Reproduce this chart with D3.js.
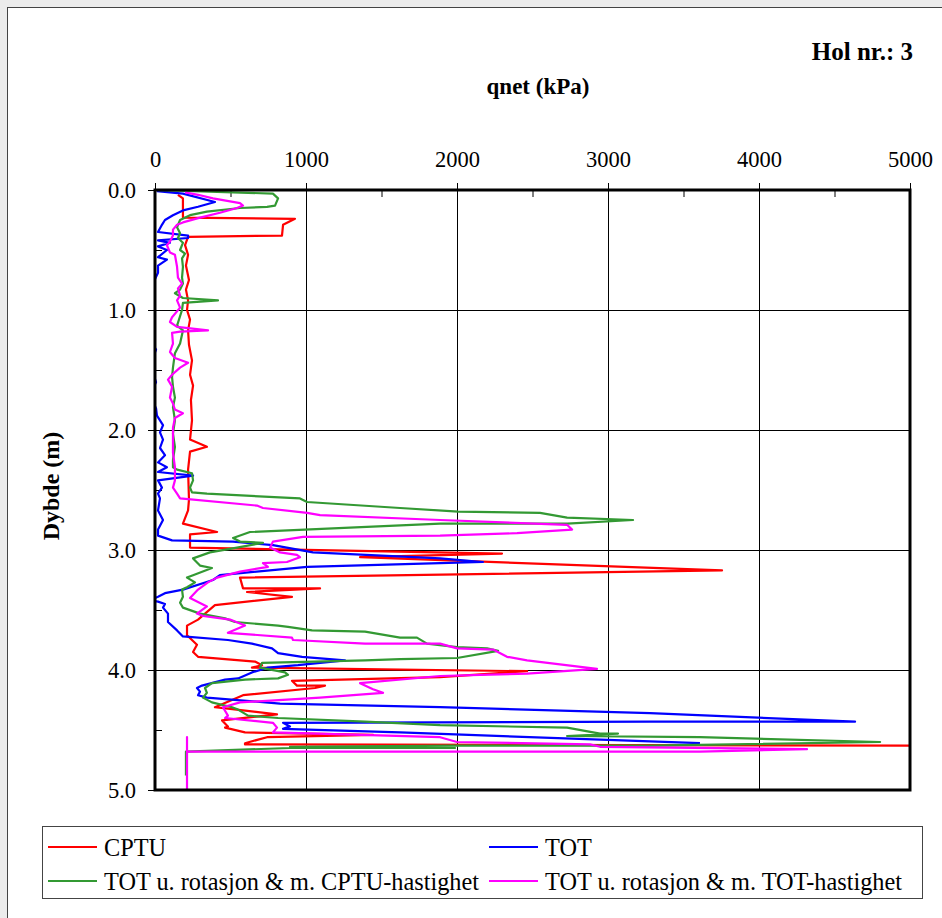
<!DOCTYPE html>
<html lang="no">
<head>
<meta charset="UTF-8">
<title>Hol nr.: 3 - qnet</title>
<script src="https://cdnjs.cloudflare.com/ajax/libs/d3/7.8.5/d3.min.js"></script>
<style>
    body { margin: 0; background: #ececec; }
    svg { display: block; font-family: "Liberation Serif", "Times New Roman", serif; }
</style>
</head>
<body>
<svg id="chart" width="942" height="918"></svg>
<script>
// [depth (m), qnet (kPa)]
const cptu = [
    [0.04,152],[0.07,185],[0.23,185],[0.24,927],[0.29,848],[0.38,841],[0.39,219],[0.46,199],
    [0.54,219],[0.63,205],[0.75,225],[0.83,205],[0.92,219],[1.00,212],[1.08,232],[1.17,219],
    [1.29,225],[1.42,245],[1.54,232],[1.63,252],[1.75,238],[1.92,245],[2.08,232],[2.14,344],
    [2.18,232],[2.33,219],[2.58,225],[2.67,219],[2.78,185],[2.85,411],[2.87,232],[2.98,232],
    [3.03,2298],[3.06,1358],[3.17,3755],[3.23,563],[3.32,583],[3.32,1093],[3.35,609],[3.39,907],
    [3.46,397],[3.58,285],[3.63,212],[3.71,212],[3.79,278],[3.85,252],[3.89,285],[3.93,662],
    [3.96,709],[3.98,642],[4.01,2464],[4.06,1888],[4.09,907],[4.13,940],[4.13,1126],[4.15,1060],
    [4.21,583],[4.31,397],[4.37,808],[4.42,444],[4.47,483],[4.48,464],[4.52,596],[4.54,1444],
    [4.56,742],[4.61,596],[4.62,596],[4.63,5150]
];

const tot = [
    [0.01,13],[0.03,185],[0.10,397],[0.14,285],[0.17,185],[0.21,119],[0.25,66],[0.29,46],
    [0.35,20],[0.38,219],[0.40,219],[0.42,20],[0.44,99],[0.47,20],[0.50,79],[0.56,20],
    [0.58,79],[0.63,20],[0.69,20],[0.83,-33],[1.25,-33],[1.33,7],[1.46,-33],[1.60,7],
    [1.71,-33],[1.82,7],[1.88,13],[1.96,53],[2.02,33],[2.08,53],[2.15,33],[2.21,66],
    [2.27,20],[2.31,79],[2.35,20],[2.38,252],[2.42,20],[2.48,46],[2.53,20],[2.57,33],
    [2.67,20],[2.75,53],[2.83,20],[2.88,20],[2.92,113],[2.93,517],[2.96,781],[3.02,1046],
    [3.07,1888],[3.10,2172],[3.11,1888],[3.14,1007],[3.21,430],[3.25,384],[3.33,185],[3.36,66],
    [3.39,20],[3.42,-33],[3.43,20],[3.45,66],[3.48,53],[3.53,86],[3.60,86],[3.67,146],
    [3.72,185],[3.75,483],[3.78,642],[3.82,775],[3.86,815],[3.89,974],[3.92,1258],[3.96,947],
    [3.98,748],[4.02,642],[4.07,550],[4.08,464],[4.13,311],[4.15,278],[4.18,298],[4.21,285],
    [4.23,344],[4.28,828],[4.31,1888],[4.36,3278],[4.43,4636],[4.43,3278],[4.44,848],[4.47,894],
    [4.49,848],[4.52,1623],[4.61,3609]
];

const totRotCptuSpeed = [
    [0.00,0],[0.03,781],[0.07,815],[0.13,795],[0.14,742],[0.15,563],[0.18,344],[0.21,232],
    [0.25,166],[0.31,146],[0.36,166],[0.40,152],[0.44,185],[0.50,166],[0.53,199],[0.57,179],
    [0.64,185],[0.73,179],[0.78,185],[0.83,166],[0.86,132],[0.90,185],[0.92,417],[0.94,185],
    [1.00,179],[1.13,146],[1.17,185],[1.28,166],[1.36,132],[1.48,119],[1.56,113],[1.64,119],
    [1.73,132],[1.81,119],[1.92,132],[2.03,119],[2.14,132],[2.25,119],[2.31,119],[2.33,146],
    [2.36,245],[2.42,252],[2.48,232],[2.52,245],[2.53,344],[2.57,960],[2.60,1007],[2.65,1623],
    [2.68,2007],[2.69,2550],[2.73,2729],[2.75,3166],[2.78,2729],[2.78,1888],[2.85,629],[2.90,517],
    [2.93,563],[2.94,715],[2.98,543],[3.02,364],[3.07,252],[3.13,298],[3.15,377],[3.21,252],
    [3.23,212],[3.27,265],[3.31,212],[3.33,179],[3.39,185],[3.44,166],[3.48,185],[3.53,298],
    [3.57,464],[3.60,530],[3.63,815],[3.64,881],[3.67,1040],[3.68,1391],[3.73,1623],[3.73,1735],
    [3.78,1801],[3.81,2000],[3.82,2199],[3.84,2272],[3.90,2000],[3.91,1623],[3.92,1391],[3.94,709],
    [3.98,695],[4.02,861],[4.04,881],[4.07,815],[4.08,596],[4.11,377],[4.15,331],[4.19,344],
    [4.23,318],[4.27,377],[4.31,510],[4.33,550],[4.38,616],[4.40,815],[4.43,1391],[4.46,1888],
    [4.48,2729],[4.53,2947],[4.53,3066],[4.55,2729],[4.56,3609],[4.60,4802],[4.63,3278],[4.63,1987],
    [4.64,894],[4.65,1987],[4.65,894],[4.68,205],[4.88,205]
];

const totRotTotSpeed = [
    [0.02,199],[0.04,285],[0.07,384],[0.11,563],[0.13,583],[0.15,543],[0.19,430],[0.23,298],
    [0.27,185],[0.29,146],[0.33,119],[0.38,119],[0.43,99],[0.46,79],[0.52,99],[0.54,132],
    [0.64,146],[0.73,152],[0.78,179],[0.82,152],[0.88,166],[0.92,146],[0.98,166],[1.06,113],
    [1.10,99],[1.14,146],[1.17,351],[1.18,166],[1.19,113],[1.28,119],[1.35,99],[1.40,132],
    [1.44,219],[1.48,166],[1.54,113],[1.58,86],[1.64,113],[1.73,99],[1.78,119],[1.83,132],
    [1.86,185],[1.90,132],[1.98,119],[2.08,119],[2.19,119],[2.31,132],[2.42,132],[2.48,119],
    [2.53,146],[2.57,166],[2.63,675],[2.65,715],[2.69,1007],[2.71,1093],[2.75,1888],[2.79,2729],
    [2.83,2762],[2.86,2398],[2.88,1888],[2.89,980],[2.93,781],[2.98,762],[3.02,828],[3.04,940],
    [3.06,960],[3.10,874],[3.11,715],[3.14,748],[3.18,563],[3.23,411],[3.27,351],[3.33,285],
    [3.40,232],[3.47,344],[3.53,278],[3.55,318],[3.58,497],[3.63,596],[3.69,483],[3.73,907],
    [3.75,914],[3.78,1391],[3.78,1888],[3.82,2000],[3.83,2239],[3.89,2331],[3.92,2464],[3.99,2927],
    [4.03,2464],[4.05,1888],[4.11,1358],[4.16,1444],[4.19,1510],[4.23,1093],[4.27,563],[4.31,450],
    [4.38,483],[4.40,464],[4.44,781],[4.48,808],[4.52,781],[4.56,1888],[4.60,2000],[4.62,2881],
    [4.64,2947],[4.66,4318],[4.68,3609],[4.68,212],[4.56,212],[5.00,212]
];

const series = [
    { name: "CPTU", color: "#ff0000", values: cptu },
    { name: "TOT", color: "#0000ff", values: tot },
    { name: "TOT u. rotasjon & m. CPTU-hastighet", color: "#339933", values: totRotCptuSpeed },
    { name: "TOT u. rotasjon & m. TOT-hastighet", color: "#ff00ff", values: totRotTotSpeed }
];

const qTicks = [0, 1000, 2000, 3000, 4000, 5000];
const qMinorTicks = [500, 1500, 2500, 3500, 4500];
const depthTicks = [0, 1, 2, 3, 4, 5];
const depthMinorTicks = [0.5, 1.5, 2.5, 3.5, 4.5];

const svg = d3.select("#chart");

// chart area
svg.append("rect")
    .attr("x", 7.5).attr("y", 7.5)
    .attr("width", 960).attr("height", 940)
    .attr("fill", "#fff")
    .attr("stroke", "#444")
    .attr("stroke-width", 1);

const plot = { left: 155, top: 190, right: 910, bottom: 790 };

const x = d3.scaleLinear().domain([0, 5000]).range([plot.left, plot.right]);
const y = d3.scaleLinear().domain([0, 5]).range([plot.top, plot.bottom]);

// grid
svg.append("g")
    .selectAll("line")
    .data(qTicks.slice(1, -1))
    .join("line")
    .attr("x1", d => x(d)).attr("x2", d => x(d))
    .attr("y1", plot.top).attr("y2", plot.bottom)
    .attr("stroke", "#000").attr("stroke-width", 1)
    .attr("shape-rendering", "crispEdges");

svg.append("g")
    .selectAll("line")
    .data(depthTicks.slice(1, -1))
    .join("line")
    .attr("x1", plot.left).attr("x2", plot.right)
    .attr("y1", d => y(d)).attr("y2", d => y(d))
    .attr("stroke", "#000").attr("stroke-width", 1)
    .attr("shape-rendering", "crispEdges");

// axes
const topAxis = svg.append("g")
    .attr("transform", `translate(0,${plot.top})`)
    .call(d3.axisTop(x).tickValues(qTicks).tickSize(7).tickPadding(16).tickFormat(d3.format("d")));
topAxis.select(".domain").remove();

svg.append("g")
    .attr("transform", `translate(0,${plot.top})`)
    .call(d3.axisBottom(x).tickValues(qMinorTicks).tickSize(7).tickFormat(""))
    .select(".domain").remove();

const leftAxis = svg.append("g")
    .attr("transform", `translate(${plot.left},0)`)
    .call(d3.axisLeft(y).tickValues(depthTicks).tickSize(7).tickPadding(12).tickFormat(d3.format(".1f")));
leftAxis.select(".domain").remove();

svg.append("g")
    .attr("transform", `translate(${plot.left},0)`)
    .call(d3.axisRight(y).tickValues(depthMinorTicks).tickSize(7).tickFormat(""))
    .select(".domain").remove();

svg.selectAll(".tick text")
    .attr("font-size", 22.5)
    .attr("font-family", "Liberation Serif, serif")
    .attr("fill", "#000");
svg.selectAll(".tick line").attr("stroke", "#000");

// series
svg.append("clipPath").attr("id", "plot-clip")
    .append("rect")
    .attr("x", plot.left).attr("y", plot.top)
    .attr("width", plot.right - plot.left).attr("height", plot.bottom - plot.top);

const line = d3.line()
    .x(d => x(d[1]))
    .y(d => y(d[0]));

svg.append("g")
    .attr("clip-path", "url(#plot-clip)")
    .selectAll("path")
    .data(series)
    .join("path")
    .attr("d", d => line(d.values))
    .attr("fill", "none")
    .attr("stroke", d => d.color)
    .attr("stroke-width", 2.2)
    .attr("stroke-linejoin", "round");

// plot frame
svg.append("rect")
    .attr("x", plot.left).attr("y", plot.top)
    .attr("width", plot.right - plot.left).attr("height", plot.bottom - plot.top)
    .attr("fill", "none")
    .attr("stroke", "#000")
    .attr("stroke-width", 3);

// titles
svg.append("text")
    .attr("x", 913).attr("y", 60)
    .attr("text-anchor", "end")
    .attr("font-size", 25).attr("font-weight", "bold")
    .text("Hol nr.: 3");

svg.append("text")
    .attr("x", 538).attr("y", 94)
    .attr("text-anchor", "middle")
    .attr("font-size", 23).attr("font-weight", "bold")
    .text("qnet (kPa)");

svg.append("text")
    .attr("transform", "translate(59,486) rotate(-90)")
    .attr("text-anchor", "middle")
    .attr("font-size", 24).attr("font-weight", "bold")
    .text("Dybde (m)");

// legend
const legend = svg.append("g");
legend.append("rect")
    .attr("x", 42.5).attr("y", 826.5)
    .attr("width", 880).attr("height", 72)
    .attr("fill", "#fff")
    .attr("stroke", "#444").attr("stroke-width", 1);

const legendPos = [[48, 847], [489, 847], [48, 881], [489, 881]];
const item = legend.selectAll("g.item")
    .data(series)
    .join("g")
    .attr("class", "item")
    .attr("transform", (d, i) => `translate(${legendPos[i][0]},${legendPos[i][1]})`);

item.append("line")
    .attr("x1", 0).attr("x2", 49)
    .attr("stroke", d => d.color).attr("stroke-width", 2.2);

item.append("text")
    .attr("x", 56).attr("dy", "0.35em")
    .attr("font-size", 24.3)
    .text(d => d.name);
</script>
</body>
</html>
